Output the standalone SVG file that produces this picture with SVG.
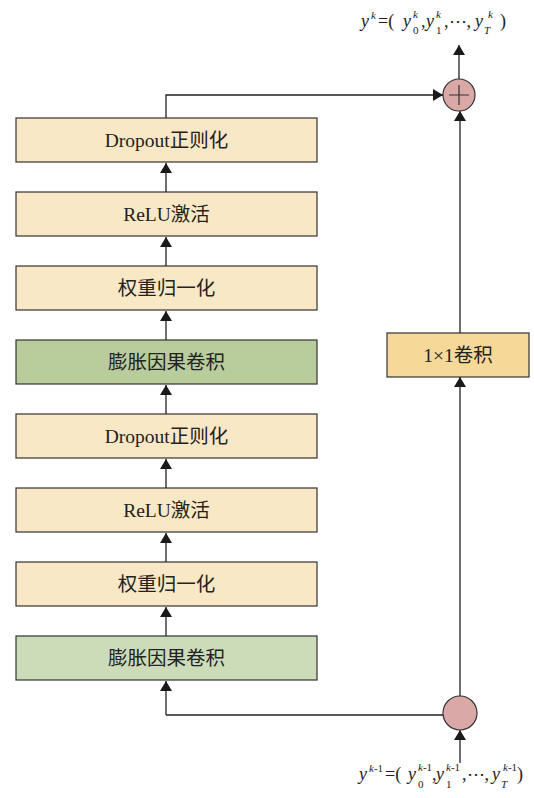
<svg xmlns="http://www.w3.org/2000/svg" width="534" height="798" viewBox="0 0 534 798">
<defs>
<marker id="ah" viewBox="0 0 10 14" refX="10" refY="7" markerWidth="10" markerHeight="14" markerUnits="userSpaceOnUse" orient="auto">
<path d="M0,1 L10,7 L0,13 Z" fill="#1a1a1a"/>
</marker>
</defs>
<style>
.box{stroke:#333;stroke-width:1.2}
.y{fill:#f9e8c5}
.gd{fill:#b9cc9c}
.gl{fill:#ccdcb9}
.o{fill:#f6d898}
.lbl{font-family:"Liberation Serif","Noto Sans CJK SC",serif;font-size:19.5px;fill:#222;text-anchor:middle}
.ln{fill:none;stroke:#222;stroke-width:1.3}
.m{font-family:"Liberation Serif",serif;font-size:18px;fill:#222}
.s{font-family:"Liberation Serif",serif;font-size:11px;fill:#222}
.i{font-style:italic}
.c{fill:#dba8a8;stroke:#333;stroke-width:1.2}
</style>
<rect width="534" height="798" fill="#fff"/>
<g id="n1"><rect class="box y" x="16" y="118" width="301" height="44"/><text class="lbl" x="166.5" y="147">Dropout正则化</text></g>
<g id="n2"><rect class="box y" x="16" y="192" width="301" height="44"/><text class="lbl" x="166.5" y="221">ReLU激活</text></g>
<g id="n3"><rect class="box y" x="16" y="266" width="301" height="44"/><text class="lbl" x="166.5" y="295">权重归一化</text></g>
<g id="n4"><rect class="box gd" x="16" y="340" width="301" height="44"/><text class="lbl" x="166.5" y="369">膨胀因果卷积</text></g>
<g id="n5"><rect class="box y" x="16" y="414" width="301" height="44"/><text class="lbl" x="166.5" y="443">Dropout正则化</text></g>
<g id="n6"><rect class="box y" x="16" y="488" width="301" height="44"/><text class="lbl" x="166.5" y="517">ReLU激活</text></g>
<g id="n7"><rect class="box y" x="16" y="562" width="301" height="44"/><text class="lbl" x="166.5" y="591">权重归一化</text></g>
<g id="n8"><rect class="box gl" x="16" y="636" width="301" height="44"/><text class="lbl" x="166.5" y="665">膨胀因果卷积</text></g>
<g id="conv1x1"><rect class="box o" x="387" y="333" width="142" height="44"/><text class="lbl" x="458" y="362">1×1卷积</text></g>
<g id="add"><circle class="c" cx="459" cy="95" r="16"/><path d="M449,95 H469 M459,85 V105" stroke="#333" stroke-width="1.2"/></g>
<g id="split"><circle class="c" cx="460" cy="713" r="17"/></g>
<g id="connectors">
<path class="ln" d="M166,715 V681" marker-end="url(#ah)"/>
<path class="ln" d="M166,715 H443"/>
<path class="ln" d="M166,636 V607" marker-end="url(#ah)"/>
<path class="ln" d="M166,562 V533" marker-end="url(#ah)"/>
<path class="ln" d="M166,488 V459" marker-end="url(#ah)"/>
<path class="ln" d="M166,414 V385" marker-end="url(#ah)"/>
<path class="ln" d="M166,340 V311" marker-end="url(#ah)"/>
<path class="ln" d="M166,266 V237" marker-end="url(#ah)"/>
<path class="ln" d="M166,192 V163" marker-end="url(#ah)"/>
<path class="ln" d="M166,118 V95 H443" marker-end="url(#ah)"/>
<path class="ln" d="M460,696 V377" marker-end="url(#ah)"/>
<path class="ln" d="M460,333 V111" marker-end="url(#ah)"/>
<path class="ln" d="M459,79 V45" marker-end="url(#ah)"/>
<path class="ln" d="M460,763 V730" marker-end="url(#ah)"/>
</g>
<g id="out-label">
<text class="m i" x="361" y="27">y</text><text class="s i" x="371" y="19">k</text>
<text class="m" x="378" y="27">=(</text>
<text class="m i" x="403" y="27">y</text><text class="s i" x="413" y="18">k</text><text class="s" x="413" y="34">0</text>
<text class="m" x="421" y="27">,</text>
<text class="m i" x="426" y="27">y</text><text class="s i" x="436" y="18">k</text><text class="s" x="436" y="34">1</text>
<text class="m" x="444" y="27">,⋯,</text>
<text class="m i" x="475" y="27">y</text><text class="s i" x="488" y="18">k</text><text class="s i" x="484" y="34">T</text>
<text class="m" x="500" y="27">)</text>
</g>
<g id="in-label">
<text class="m i" x="359" y="780">y</text><text class="s" x="369" y="772"><tspan class="i">k</tspan>-1</text>
<text class="m" x="385" y="780">=(</text>
<text class="m i" x="408" y="780">y</text><text class="s" x="418" y="771"><tspan class="i">k</tspan>-1</text><text class="s" x="418" y="788">0</text>
<text class="m" x="432" y="780">,</text>
<text class="m i" x="436" y="780">y</text><text class="s" x="446" y="771"><tspan class="i">k</tspan>-1</text><text class="s" x="446" y="788">1</text>
<text class="m" x="462" y="780">,⋯,</text>
<text class="m i" x="492" y="780">y</text><text class="s" x="503" y="771"><tspan class="i">k</tspan>-1</text><text class="s i" x="501" y="788">T</text>
<text class="m" x="517" y="780">)</text>
</g>
</svg>
